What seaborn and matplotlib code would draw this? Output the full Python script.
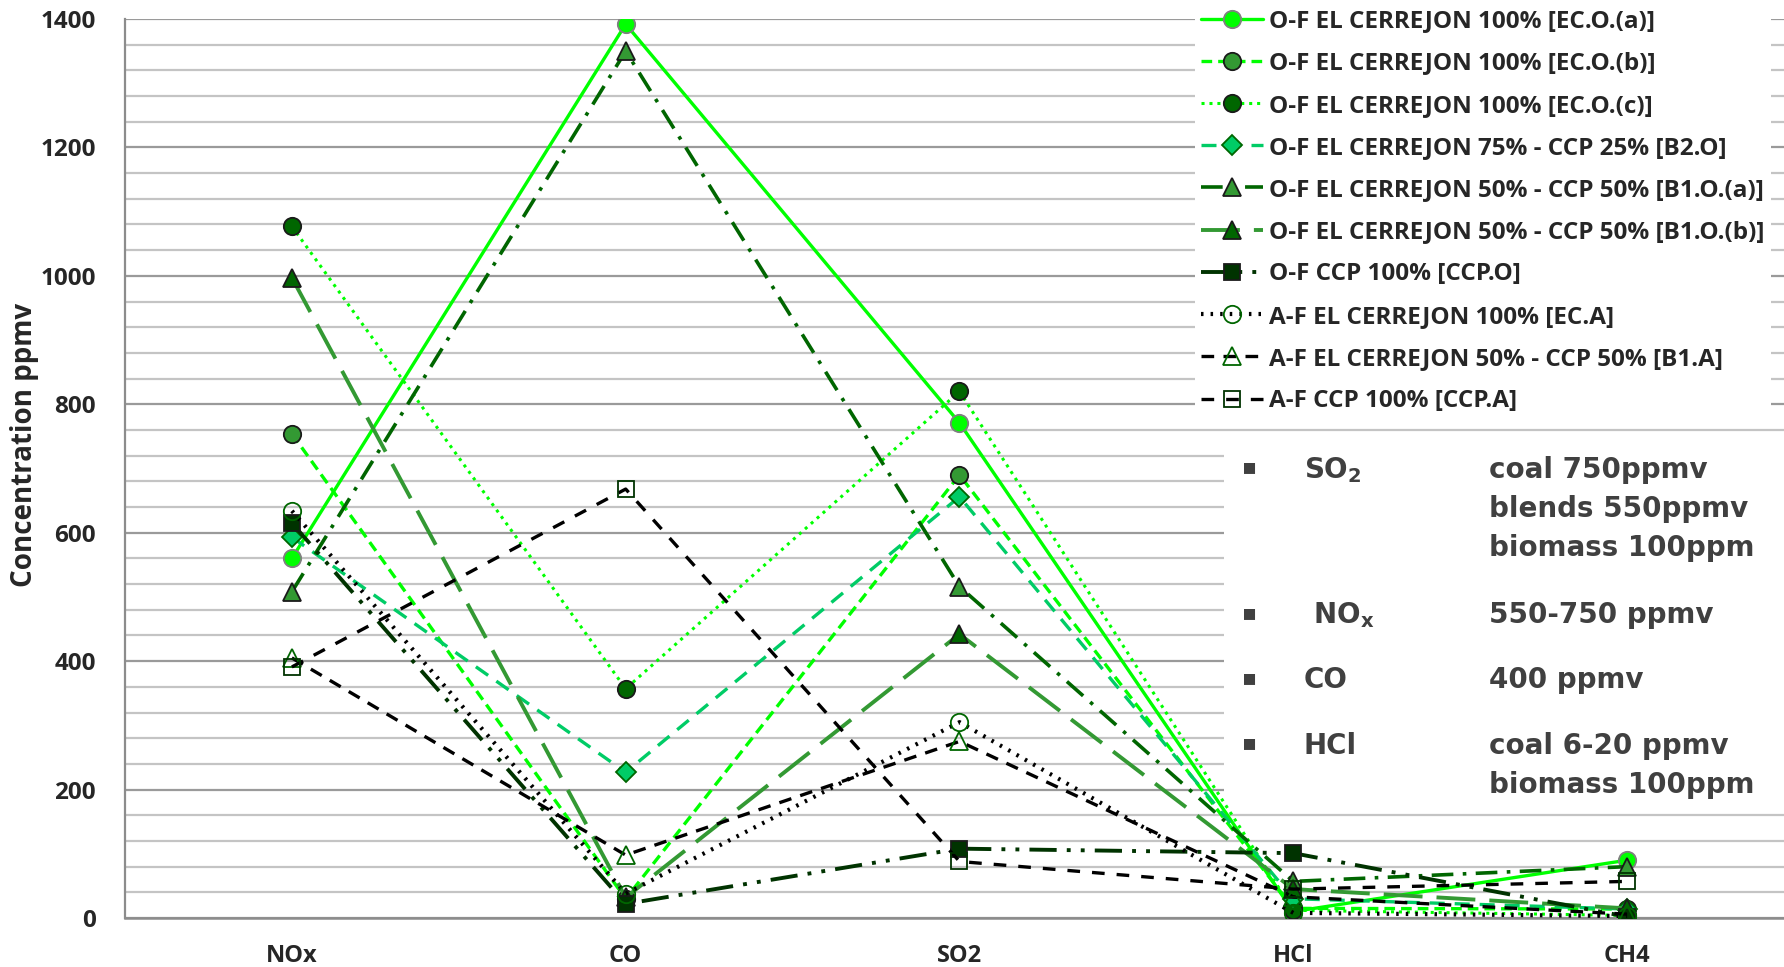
import matplotlib
matplotlib.use("Agg")
import matplotlib.pyplot as plt
import numpy as np
import pandas as pd
import seaborn as sns
from matplotlib.ticker import MultipleLocator, FixedLocator
from matplotlib.patches import Rectangle

# ---------------- data ----------------
pollutants = ["NOx", "CO", "SO2", "HCl", "CH4"]

series_labels = [
    "O-F EL CERREJON 100% [EC.O.(a)]",
    "O-F EL CERREJON 100% [EC.O.(b)]",
    "O-F EL CERREJON 100% [EC.O.(c)]",
    "O-F EL CERREJON 75% - CCP 25% [B2.O]",
    "O-F EL CERREJON 50% - CCP 50% [B1.O.(a)]",
    "O-F EL CERREJON 50% - CCP 50% [B1.O.(b)]",
    "O-F CCP 100% [CCP.O]",
    "A-F EL CERREJON 100% [EC.A]",
    "A-F EL CERREJON 50% - CCP 50% [B1.A]",
    "A-F CCP 100% [CCP.A]",
]

ec_o_a = [560, 1392, 771, 10, 90]
ec_o_b = [754, 30, 690, 15, 14]
ec_o_c = [1077, 357, 820, 12, 4]
b2_o = [593, 227, 656, 30, 14]
b1_o_a = [508, 1350, 516, 57, 80]
b1_o_b = [997, 32, 442, 45, 15]
ccp_o = [615, 22, 108, 101, 2]
ec_a = [634, 38, 305, 8, 3]
b1_a = [405, 98, 275, 33, 6]
ccp_a = [391, 668, 88, 45, 57]

all_values = [ec_o_a, ec_o_b, ec_o_c, b2_o, b1_o_a, b1_o_b, ccp_o, ec_a, b1_a, ccp_a]

limit_labels = ["SO$_2$", " NO$_x$", "CO", "HCl"]
limit_texts = ["coal 750ppmv\nblends 550ppmv\nbiomass 100ppm",
               "550-750 ppmv", "400 ppmv",
               "coal 6-20 ppmv\nbiomass 100ppm"]

# ---------------- styles ----------------
BR = "#00FF00"
TEAL = "#00CC66"
MED = "#339933"
DARK = "#006600"
VDARK = "#003300"

styles = [
    dict(color=BR, ls="-", lw=2.4, marker="o", mfc=BR, mec="#808080"),
    dict(color=BR, ls=(0, (3.2, 1.8)), lw=2.4, marker="o", mfc=MED, mec="#1a1a1a"),
    dict(color=BR, ls=(0, (1.0, 1.6)), lw=2.2, marker="o", mfc=DARK, mec="#1a1a1a"),
    dict(color=TEAL, ls=(0, (4.5, 3.0)), lw=2.4, marker="D", mfc=TEAL, mec=DARK),
    dict(color=DARK, ls=(0, (6, 2.6, 1, 2.6)), lw=2.6, marker="^", mfc=MED, mec="#1a1a1a"),
    dict(color=MED, ls=(0, (10, 3.6)), lw=2.8, marker="^", mfc=DARK, mec="#1a1a1a"),
    dict(color=VDARK, ls=(0, (7, 2.6, 1, 2.6, 1, 2.6)), lw=2.8, marker="s", mfc=VDARK, mec="#1a1a1a"),
    dict(color="black", ls=(0, (0.6, 1.7)), lw=3.0, marker="o", mfc="none", mec=DARK),
    dict(color="black", ls=(0, (3.8, 2.8)), lw=2.4, marker="^", mfc="none", mec=DARK),
    dict(color="black", ls=(0, (3.8, 3.6)), lw=2.4, marker="s", mfc="none", mec=VDARK),
]
msizes = [12.5, 12.5, 12.5, 10.5, 12.5, 12.5, 11.5, 12.5, 12.5, 11.5]

# ---------------- figure ----------------
sns.set_style("white")
MAINFONT = ["Open Sans", "DejaVu Sans"]
plt.rcParams["font.family"] = MAINFONT
plt.rcParams["mathtext.fontset"] = "custom"
plt.rcParams["mathtext.rm"] = "DejaVu Sans:bold"
plt.rcParams["mathtext.it"] = "DejaVu Sans:bold"
plt.rcParams["mathtext.bf"] = "DejaVu Sans:bold"
plt.rcParams["mathtext.default"] = "rm"

W, H = 1784, 967
fig = plt.figure(figsize=(W / 100, H / 100), dpi=100)
ax_left, ax_right, ax_top, ax_bottom = 125, 1794, 19, 918
ax = fig.add_axes([ax_left / W, 1 - ax_bottom / H, (ax_right - ax_left) / W, (ax_bottom - ax_top) / H])

records = []
for lab, vals in zip(series_labels, all_values):
    for p, v in zip(pollutants, vals):
        records.append({"series": lab, "pollutant": p, "value": v})
df = pd.DataFrame(records)

for i, (lab, st) in enumerate(zip(series_labels, styles)):
    sub = df[df["series"] == lab]
    sns.lineplot(data=sub, x="pollutant", y="value", ax=ax, sort=False, errorbar=None,
                 color=st["color"], linestyle=st["ls"], linewidth=st["lw"],
                 marker=st["marker"], markersize=msizes[i],
                 markerfacecolor=st["mfc"], markeredgecolor=st["mec"], markeredgewidth=1.3,
                 label=lab, zorder=3 + i * 0.01)

ax.set_xlim(-0.5, 4.5)
ax.set_ylim(0, 1400)
ax.set_axisbelow(True)

ax.yaxis.set_major_locator(MultipleLocator(200))
ax.yaxis.set_minor_locator(MultipleLocator(40))
ax.grid(which="major", axis="y", color="#9a9a9a", lw=1.6)
ax.grid(which="minor", axis="y", color="#c4c4c4", lw=1.6)
ax.grid(False, axis="x")

ax.xaxis.set_major_locator(FixedLocator(range(5)))
ax.xaxis.set_minor_locator(FixedLocator(np.arange(-0.5, 5, 1.0)))
ax.tick_params(axis="x", which="major", length=0, pad=19, labelsize=17)
ax.tick_params(axis="x", which="minor", length=9, width=1.5, color="#8c8c8c", direction="out")
ax.tick_params(axis="y", which="both", length=8, width=1.5, color="#8c8c8c", direction="out",
               pad=13, labelsize=17.5)
for t in ax.get_xticklabels() + ax.get_yticklabels():
    t.set_fontweight("bold")
    t.set_family(MAINFONT)
ax.set_xlabel("")
ax.set_ylabel("Concentration ppmv", fontsize=20, fontweight="bold", family=MAINFONT)
ax.yaxis.set_label_coords((39 - ax_left) / (ax_right - ax_left), (ax_bottom - 445) / (ax_bottom - ax_top))

for s in ["top", "right"]:
    ax.spines[s].set_visible(False)
ax.spines["left"].set_color("#8c8c8c")
ax.spines["left"].set_linewidth(1.6)
ax.spines["bottom"].set_color("#8c8c8c")
ax.spines["bottom"].set_linewidth(1.8)

# white box for the limits text
ax.add_patch(Rectangle((1224 / W, 1 - 800 / H), (W - 1224) / W, (800 - 437) / H,
                       transform=fig.transFigure, facecolor="white", edgecolor="none",
                       zorder=1, clip_on=False))

handles, labels = ax.get_legend_handles_labels()
leg = ax.legend(handles, labels, loc="upper left", bbox_to_anchor=(1195 / W, 1 - 3 / H),
                bbox_transform=fig.transFigure, frameon=True, facecolor="white",
                edgecolor="none", framealpha=1,
                prop={"family": MAINFONT, "weight": "bold", "size": 17.5},
                handlelength=2.55, handletextpad=0.25, labelspacing=0.75, borderpad=0.25,
                borderaxespad=0, fancybox=False)
leg.set_zorder(6)

# limits text
tcol = "#404040"
tfont = dict(family=["DejaVu Sans"], weight="bold", size=20, color=tcol)
bullet_y = [467, 613, 678, 743]
label_x = [1304, 1304, 1304, 1304]
base_y = [478, 623, 688, 754]
line_gap = 39
for by, bl, lab, txt, lx in zip(bullet_y, base_y, limit_labels, limit_texts, label_x):
    fig.text(1250 / W, 1 - by / H, "\u25aa", ha="center", va="center",
             family=["DejaVu Sans"], size=16, color=tcol)
    fig.text(lx / W, 1 - bl / H, lab, ha="left", va="baseline", **tfont)
    for k, line in enumerate(txt.split("\n")):
        fig.text(1489 / W, 1 - (bl + k * line_gap) / H, line, ha="left", va="baseline", **tfont)

fig.savefig("out.png", dpi=100, facecolor="white")
